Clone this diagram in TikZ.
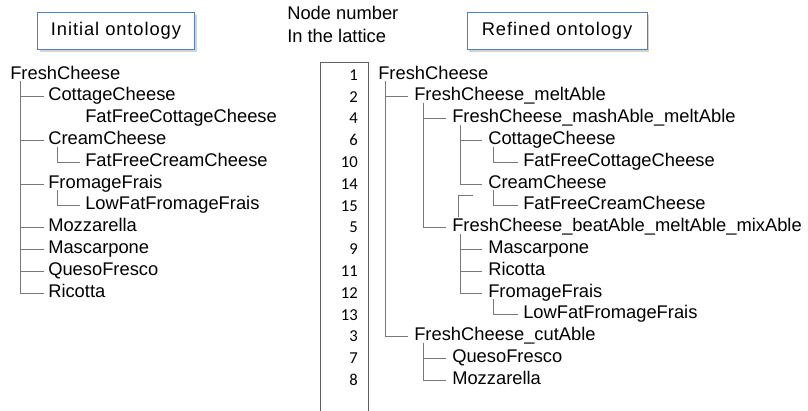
\documentclass[tikz,border=0pt]{standalone}
\usepackage{fontspec}
\setmainfont{Liberation Sans}
\newfontfamily\numfont{Carlito}
\newfontfamily\titlefont[LetterSpace=5]{Liberation Sans}
\usetikzlibrary{shadows}

\definecolor{boxblue}{RGB}{79,129,189}
\definecolor{linegray}{RGB}{120,120,120}

\tikzset{
  leaf/.style={anchor=west, inner sep=0pt, text height=1.45ex, text depth=.3ex,
    font=\fontsize{13.75}{16}\selectfont},
  num/.style={anchor=east, inner sep=0pt, font=\numfont\fontsize{12.5}{14}\selectfont},
  titlebox/.style={draw=boxblue, fill=white, minimum height=27.75pt,
    font=\titlefont\fontsize{13.75}{16}\selectfont,
    drop shadow={opacity=0.35, shadow xshift=1.5pt, shadow yshift=-1.5pt}},
  branch/.style={draw=linegray, line width=0.6pt}
}

\begin{document}
\begin{tikzpicture}[x=0.75pt, y=-0.75pt]
  \useasboundingbox (0,0) rectangle (808,411);

  % titles
  \node[titlebox, minimum width=117.75pt] (initial) at (116,31) {Initial ontology};
  \node[titlebox, minimum width=135pt] (refined) at (557,31) {Refined ontology};
  \node[leaf] (caption1) at (287,15) {Node number};
  \node[leaf] (caption2) at (287,38) {In the lattice};

  % initial ontology
  \node[leaf] (iroot) at (10,75) {FreshCheese};
  \node[leaf] (icottage) at (48,96.8) {CottageCheese};
  \node[leaf] (iffcottage) at (85,118.6) {FatFreeCottageCheese};
  \node[leaf] (icream) at (48,140.4) {CreamCheese};
  \node[leaf] (iffcream) at (85,162.2) {FatFreeCreamCheese};
  \node[leaf] (ifromage) at (48,184) {FromageFrais};
  \node[leaf] (ilowfat) at (85,205.8) {LowFatFromageFrais};
  \node[leaf] (imozz) at (48,227.6) {Mozzarella};
  \node[leaf] (imasc) at (48,249.4) {Mascarpone};
  \node[leaf] (iqueso) at (48,271.2) {QuesoFresco};
  \node[leaf] (iricotta) at (48,293) {Ricotta};

  \foreach \c in {icottage, icream, ifromage, imozz, imasc, iqueso, iricotta}
    \draw[branch] ([xshift=7.5pt]iroot.south west) |- ([xshift=-3pt]\c.west);
  \draw[branch] ([xshift=6.75pt]icream.south west) |- ([xshift=-3.75pt]iffcream.west);
  \draw[branch] ([xshift=6.75pt]ifromage.south west) |- ([xshift=-3.75pt]ilowfat.west);

  % lattice node numbers
  \draw[draw=linegray!80!black, line width=0.6pt] (320,411) -- (320,62) -- (368,62) -- (368,411);
  \foreach [count=\k] \n in {1,2,4,6,10,14,15,5,9,11,12,13,3,7,8}
    \node[num] (num\n) at (358, {75+21.8*(\k-1)}) {\n};

  % refined ontology
  \node[leaf] (r1) at (378,75) {FreshCheese};
  \node[leaf] (r2) at (414,96.8) {FreshCheese\_meltAble};
  \node[leaf] (r4) at (452,118.6) {FreshCheese\_mashAble\_meltAble};
  \node[leaf] (r6) at (488,140.4) {CottageCheese};
  \node[leaf] (r10) at (523,162.2) {FatFreeCottageCheese};
  \node[leaf] (r14) at (488,184) {CreamCheese};
  \node[leaf] (r15) at (523,205.8) {FatFreeCreamCheese};
  \node[leaf] (r5) at (452,227.6) {FreshCheese\_beatAble\_meltAble\_mixAble};
  \node[leaf] (r9) at (488,249.4) {Mascarpone};
  \node[leaf] (r11) at (488,271.2) {Ricotta};
  \node[leaf] (r12) at (488,293) {FromageFrais};
  \node[leaf] (r13) at (523,314.8) {LowFatFromageFrais};
  \node[leaf] (r3) at (414,336.6) {FreshCheese\_cutAble};
  \node[leaf] (r7) at (452,358.4) {QuesoFresco};
  \node[leaf] (r8) at (452,380.2) {Mozzarella};

  \foreach \c in {r2, r3}
    \draw[branch] ([xshift=5.25pt]r1.south west) |- ([xshift=-4.5pt]\c.west);
  \foreach \c in {r4, r5}
    \draw[branch] ([xshift=6.75pt]r2.south west) |- ([xshift=-4.5pt]\c.west);
  \foreach \c in {r6, r14}
    \draw[branch] ([xshift=6pt]r4.south west) |- ([xshift=-4.5pt]\c.west);
  \coordinate (creamfoot) at (458,217);
  \coordinate (creamtop) at (473,195);
  \draw[branch] (creamfoot) |- (creamtop);
  \draw[branch] ([xshift=3.75pt]r6.south west) |- ([xshift=-3.75pt]r10.west);
  \draw[branch] ([xshift=3.75pt]r14.south west) |- ([xshift=-3.75pt]r15.west);
  \foreach \c in {r9, r11, r12}
    \draw[branch] ([xshift=6pt]r5.south west) |- ([xshift=-4.5pt]\c.west);
  \draw[branch] ([xshift=3.75pt]r12.south west) |- ([xshift=-3.75pt]r13.west);
  \foreach \c in {r7, r8}
    \draw[branch] ([xshift=6.75pt]r3.south west) |- ([xshift=-4.5pt]\c.west);
\end{tikzpicture}
\end{document}
